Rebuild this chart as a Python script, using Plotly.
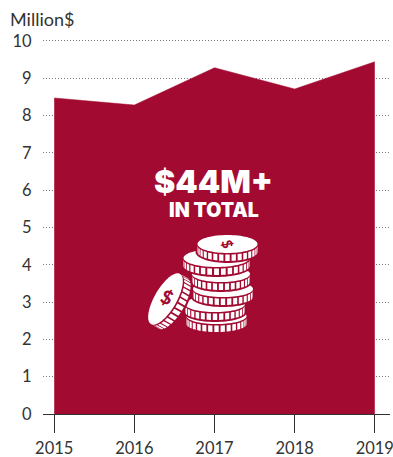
import math
import plotly.graph_objects as go

years = [2015, 2016, 2017, 2018, 2019]
values = [8.47, 8.28, 9.28, 8.71, 9.44]
y_ticks = list(range(0, 11))

W, H = 403, 457
L, R, T, B = 43, 13, 39, 43
RED = "#A20A31"
INK = "#333333"
FONT = "Lato"
HEAD = "Inter"


def fx(px):
    return (px - L) / (W - L - R)


def fy(py):
    return 1 - (py - T) / (H - T - B)


def path_of(points):
    return "M " + " L ".join(f"{fx(x):.5f},{fy(y):.5f}" for x, y in points) + " Z"


def coin_shapes(cx, cy, rx, ry, thick, angle=0, n=15):
    c, s = math.cos(math.radians(angle)), math.sin(math.radians(angle))

    def place(x, y):
        return (cx + x * c - y * s, cy + x * s + y * c)

    def shape(points, color):
        return dict(type="path", xref="paper", yref="paper", path=path_of(points),
                    fillcolor=color, line=dict(width=0))

    steps = [2 * math.pi * i / 72 for i in range(72)]
    grow = 2.0
    backing = [place((rx + grow) * math.cos(t), (ry + grow) * math.sin(t) + (thick if math.sin(t) > 0 else 0))
               for t in steps]
    out = [shape(backing, RED)]
    dt = math.pi / n
    for i in range(n):
        t1 = i * dt + 0.15 * dt
        t2 = (i + 1) * dt - 0.15 * dt
        ts = [t1 + (t2 - t1) * k / 4 for k in range(5)]
        top = [place(rx * math.cos(t), ry * math.sin(t) + 1.6) for t in ts]
        bot = [place(rx * math.cos(t), ry * math.sin(t) + thick) for t in reversed(ts)]
        out.append(shape(top + bot, "white"))
    face = [place(rx * math.cos(t), ry * math.sin(t)) for t in steps]
    out.append(shape(face, "white"))
    return out


# icon layout (bottom of the stack first): cx, cy, rx, ry, thickness, angle
coins = [
    (216.5, 316, 30, 8, 8, 0),
    (215, 304, 30, 8, 8, 0),
    (223, 289, 30, 8, 8, 0),
    (221, 274, 29, 8, 8, 0),
    (216.5, 258, 33, 9, 8, 0),
    (227.5, 244, 30, 9, 8, 0),
    (165.5, 299, 29, 11, 9, -60),
]

shapes = []
for coin in coins:
    shapes += coin_shapes(*coin)

fig = go.Figure(go.Scatter(
    x=years, y=values, mode="lines", fill="tozeroy",
    fillcolor=RED, line=dict(color=RED, width=0.5), hoverinfo="skip",
))

annotations = [
    dict(text="Million$", x=fx(9), y=fy(19), xanchor="left", yanchor="middle", showarrow=False,
         font=dict(family=FONT, size=18, color=INK)),
    dict(text="$44M+", x=fx(213.5), y=fy(181), xanchor="center", yanchor="middle", showarrow=False,
         font=dict(family=HEAD, size=32, color="white", weight=900)),
    dict(text="IN TOTAL", x=fx(214), y=fy(210), xanchor="center", yanchor="middle", showarrow=False,
         font=dict(family=HEAD, size=19.5, color="white", weight=900)),
    dict(text="$", x=fx(227.5), y=fy(243.5), xanchor="center", yanchor="middle", showarrow=False, textangle=75,
         font=dict(family=FONT, size=14, color=RED, weight=900)),
    dict(text="$", x=fx(167), y=fy(296), xanchor="center", yanchor="middle", showarrow=False, textangle=25,
         font=dict(family=FONT, size=19, color=RED, weight=900)),
]
for a in annotations:
    a.update(xref="paper", yref="paper", borderpad=0)

fig.update_layout(
    width=W, height=H,
    margin=dict(l=L, r=R, t=T, b=B, autoexpand=False),
    paper_bgcolor="white", plot_bgcolor="white",
    showlegend=False,
    font=dict(family=FONT, size=16.5, color=INK),
    shapes=shapes,
    annotations=annotations,
    xaxis=dict(
        range=[2014.86, 2019.19], tickmode="array", tickvals=years, ticktext=[str(v) for v in years],
        ticks="outside", ticklen=18, tickwidth=1.2, tickcolor=INK, ticklabelstandoff=1,
        showgrid=False, zeroline=False, showline=False, fixedrange=True,
    ),
    yaxis=dict(
        range=[0, 10.05], tickmode="array", tickvals=y_ticks,
        ticks="outside", ticklen=7, tickcolor="rgba(0,0,0,0)",
        showgrid=True, gridcolor="#777777", griddash="1px,2px", gridwidth=1,
        zeroline=True, zerolinecolor=INK, zerolinewidth=1.2, showline=False, fixedrange=True,
    ),
)

fig.write_html("out.html", config={"displayModeBar": False},
               post_script="document.body.style.margin='0';document.body.style.overflow='hidden';")
